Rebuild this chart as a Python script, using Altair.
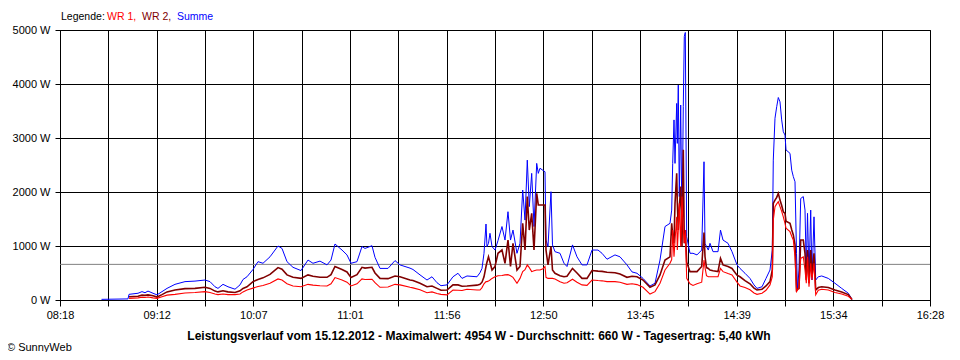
import altair as alt
import pandas as pd

# ---------------- data ----------------
TIMES = [
    "08:41:22", "08:56:18", "08:56:52", "09:01:56", "09:04:11", "09:05:52", "09:07:34", "09:10:23",
    "09:12:38", "09:15:27", "09:18:16", "09:22:46", "09:28:24", "09:34:02", "09:39:40", "09:42:29",
    "09:45:18", "09:46:59", "09:49:48", "09:52:37", "09:56:34", "09:59:23", "10:01:04", "10:03:19",
    "10:06:42", "10:09:31", "10:12:20", "10:16:17", "10:20:47", "10:23:02", "10:25:51", "10:29:14",
    "10:33:44", "10:37:41", "10:40:29", "10:44:26", "10:48:23", "10:50:38", "10:52:53", "10:56:50",
    "10:59:38", "11:01:54", "11:05:16", "11:08:05", "11:09:47", "11:13:43", "11:15:25", "11:18:14",
    "11:22:44", "11:26:41", "11:29:29", "11:35:08", "11:36:49", "11:40:46", "11:44:42", "11:47:31",
    "11:50:20", "11:52:35", "11:55:58", "11:59:20", "12:02:10", "12:04:25", "12:07:14", "12:12:52",
    "12:14:33", "12:15:41", "12:16:48", "12:17:56", "12:18:29", "12:19:20", "12:20:11", "12:21:19",
    "12:23:00", "12:24:41", "12:26:56", "12:28:38", "12:30:19", "12:31:44", "12:33:08", "12:35:23",
    "12:37:05", "12:38:36", "12:39:54", "12:41:11", "12:42:19", "12:43:40", "12:44:58", "12:46:29",
    "12:47:23", "12:48:20", "12:50:02", "12:51:10", "12:51:43", "12:52:51", "12:54:32", "12:55:23",
    "12:56:47", "12:59:37", "13:01:52", "13:03:33", "13:06:39", "13:09:11", "13:12:00", "13:14:49",
    "13:17:38", "13:21:01", "13:23:16", "13:26:05", "13:30:35", "13:33:24", "13:37:20", "13:40:10",
    "13:42:59", "13:46:22", "13:50:18", "13:53:07", "13:55:56", "13:58:45", "14:01:34", "14:02:31",
    "14:03:05", "14:03:49", "14:04:23", "14:05:20", "14:05:41", "14:06:14", "14:06:48", "14:07:35",
    "14:08:19", "14:09:03", "14:09:37", "14:10:11", "14:10:58", "14:12:50", "14:14:31", "14:16:46",
    "14:19:25", "14:20:43", "14:21:17", "14:22:07", "14:23:08", "14:24:05", "14:25:47", "14:28:36",
    "14:30:00", "14:31:25", "14:34:14", "14:36:29", "14:39:18", "14:40:59", "14:43:48", "14:46:37",
    "14:48:52", "14:50:34", "14:53:23", "14:55:38", "14:57:53", "14:59:11", "14:59:44", "15:00:42",
    "15:01:40", "15:02:34", "15:03:31", "15:04:28", "15:05:23", "15:06:20", "15:06:54", "15:09:09",
    "15:10:07", "15:11:01", "15:11:58", "15:12:49", "15:13:22", "15:14:13", "15:15:11", "15:16:38",
    "15:17:36", "15:18:20", "15:19:01", "15:19:51", "15:20:49", "15:21:32", "15:22:40", "15:23:38",
    "15:25:05", "15:27:01", "15:30:43", "15:34:29", "15:38:16", "15:41:59", "15:44:04",
]

SUMME = [
    12, 20, 105, 125, 155, 135, 165, 125,
    95, 155, 215, 290, 340, 350, 370, 340,
    245, 215, 290, 245, 200, 280, 380, 430,
    565, 710, 680, 800, 1000, 955, 710, 605,
    545, 740, 680, 720, 650, 740, 1037, 925,
    835, 680, 710, 990, 955, 1005, 790, 585,
    585, 730, 650, 590, 565, 465, 370, 430,
    320, 265, 280, 430, 495, 400, 445, 430,
    505, 585, 865, 1407, 990, 1050, 1235, 990,
    925, 1100, 1360, 1110, 1635, 1110, 1295, 865,
    1050, 2037, 1480, 2590, 1730, 2345, 1360, 2530,
    2345, 2440, 2400, 2375, 1110, 990, 2005, 1020,
    895, 865, 680, 620, 1020, 800, 650, 650,
    925, 925, 865, 755, 835, 800, 650, 520,
    495, 400, 260, 310, 740, 1360, 1420, 1665,
    2530, 3335, 2530, 3640, 2900, 3980, 1915, 3610,
    1295, 3580, 4880, 4954, 1170, 865, 865, 835,
    925, 2560, 1050, 990, 925, 1050, 895, 895,
    1295, 1110, 1050, 895, 650, 585, 495, 400,
    280, 215, 245, 400, 555, 925, 2590, 3365,
    3580, 3750, 3670, 3335, 3115, 3055, 2780, 2715,
    2405, 2285, 2190, 865, 185, 555, 1880, 1915,
    1665, 555, 1605, 430, 1665, 370, 1540, 370,
    430, 445, 400, 310, 215, 125, 10,
]

WR2 = [
    None, None, 60, 70, 90, 85, 95, 80,
    55, 100, 150, 185, 210, 215, 235, 215,
    165, 150, 170, 150, 140, 170, 215, 245,
    340, 380, 410, 475, 600, 570, 465, 420,
    400, 465, 440, 420, 420, 470, 620, 565,
    520, 415, 470, 605, 590, 605, 500, 400,
    395, 445, 430, 370, 360, 310, 245, 260,
    215, 180, 185, 280, 280, 255, 260, 275,
    290, 330, 430, 620, 700, 800, 700, 555,
    620, 865, 925, 680, 1110, 620, 1050, 555,
    620, 1420, 925, 1915, 1295, 1605, 925, 1975,
    1760, 1760, 1760, 1760, 925, 650, 990, 555,
    495, 450, 430, 440, 585, 500, 400, 400,
    545, 535, 530, 515, 505, 480, 420, 440,
    430, 370, 235, 280, 465, 740, 800, 1420,
    1200, 1050, 1790, 2345, 1800, 1295, 1700, 2100,
    990, 2780, 1050, 1295, 700, 525, 525, 525,
    620, 1250, 800, 600, 585, 555, 540, 525,
    770, 650, 620, 585, 460, 430, 360, 300,
    220, 185, 200, 260, 340, 555, 1790, 1850,
    1900, 1975, 1850, 1750, 1635, 1605, 1460, 1420,
    1300, 1205, 1020, 185, 200, 215, 1110, 1110,
    865, 370, 925, 310, 925, 430, 865, 185,
    230, 245, 230, 185, 150, 100, 10,
]

WR1 = [
    None, None, 30, 40, 50, 45, 55, 40,
    30, 60, 90, 105, 130, 140, 155, 140,
    110, 100, 110, 100, 100, 110, 150, 185,
    220, 250, 270, 310, 390, 370, 300, 260,
    245, 290, 275, 265, 260, 300, 415, 370,
    330, 260, 300, 390, 380, 385, 320, 235,
    240, 290, 280, 235, 225, 190, 135, 150,
    120, 105, 95, 185, 180, 175, 200, 185,
    185, 230, 300, 340, 340, 350, 370, 400,
    430, 450, 455, 465, 470, 450, 420, 310,
    400, 525, 560, 650, 600, 525, 540, 555,
    555, 555, 580, 620, 420, 400, 400, 400,
    390, 340, 310, 320, 385, 330, 280, 270,
    370, 360, 355, 340, 340, 330, 290, 300,
    285, 235, 110, 155, 310, 555, 680, 750,
    1295, 800, 1100, 1540, 925, 1300, 1790, 990,
    1915, 1300, 1050, 1295, 400, 300, 270, 300,
    330, 740, 600, 450, 430, 430, 430, 430,
    585, 525, 490, 465, 330, 260, 230, 190,
    130, 105, 125, 180, 280, 430, 1480, 1730,
    1780, 1820, 1730, 1640, 1540, 1420, 1330, 1265,
    1180, 1110, 800, 155, 180, 245, 770, 800,
    555, 310, 800, 245, 680, 370, 680, 95,
    180, 200, 185, 140, 110, 70, 10,
]

Y_TICKS = [0, 1000, 2000, 3000, 4000, 5000]
TICK_LABELS = ["08:18", "09:12", "10:07", "11:01", "11:56", "12:50", "13:45", "14:39", "15:34", "16:28"]
AVERAGE_W = [660]
LEGEND_PREFIX = "Legende:"
SERIES_NAMES = ["WR 1", "WR 2", "Summe"]
SERIES_COLORS = ["#FF0000", "#800000", "#0000FF"]
TITLE_TEXT = "Leistungsverlauf vom 15.12.2012 - Maximalwert: 4954 W - Durchschnitt: 660 W - Tagesertrag: 5,40 kWh"
COPYRIGHT = "\u00a9 SunnyWeb"

FONT = "Liberation Sans"


def to_min(s):
    p = [int(v) for v in s.split(":")]
    return p[0] * 60 + p[1] + (p[2] / 60.0 if len(p) > 2 else 0.0)


df = pd.DataFrame({
    "t": [to_min(s) for s in TIMES],
    "summe": SUMME,
    "wr1": WR1,
    "wr2": WR2,
})

x0, x1 = to_min(TICK_LABELS[0]), to_min(TICK_LABELS[-1])
n_grid = 2 * (len(TICK_LABELS) - 1)
step = (x1 - x0) / n_grid
grid_vals = [x0 + i * step for i in range(n_grid + 1)]
label_arr = [TICK_LABELS[i // 2] if i % 2 == 0 else "" for i in range(n_grid + 1)]
label_expr = "[" + ",".join("'%s'" % l for l in label_arr) + "][round((datum.value-%s)/%s)]" % (x0, step)

x_scale = alt.Scale(domain=[x0, x1], nice=False, zero=False)
y_scale = alt.Scale(domain=[Y_TICKS[0], Y_TICKS[-1]], nice=False)

x_axis = alt.Axis(
    values=grid_vals, labelExpr=label_expr, title=None,
    grid=True, gridColor="black", gridOpacity=1, gridWidth=1,
    tickColor="black", tickSize=6, tickWidth=1, domainColor="black",
    labelFont=FONT, labelFontSize=11, labelColor="black", labelPadding=3,
    labelFlush=False, labelOverlap=False,
)
y_axis = alt.Axis(
    values=Y_TICKS, labelExpr="datum.value + ' W'", title=None,
    grid=True, gridColor="black", gridOpacity=1, gridWidth=1,
    tickColor="black", tickSize=5, tickWidth=1, domainColor="black",
    labelFont=FONT, labelFontSize=11, labelColor="black", labelPadding=5,
    labelFlush=False, labelOverlap=False,
)

x_enc = alt.X("t:Q", scale=x_scale, axis=x_axis)

avg = alt.Chart(pd.DataFrame({"avg": AVERAGE_W})).mark_rule(color="#808080", strokeWidth=1).encode(
    y=alt.Y("avg:Q", scale=y_scale, axis=y_axis)
)

base = alt.Chart(df)
line_summe = base.mark_line(color=SERIES_COLORS[2], strokeWidth=1).encode(
    x=x_enc, y=alt.Y("summe:Q", scale=y_scale, axis=y_axis))
line_wr2 = base.mark_line(color=SERIES_COLORS[1], strokeWidth=1.6).encode(
    x=x_enc, y=alt.Y("wr2:Q", scale=y_scale, axis=y_axis))
line_wr1 = base.mark_line(color=SERIES_COLORS[0], strokeWidth=1.1).encode(
    x=x_enc, y=alt.Y("wr1:Q", scale=y_scale, axis=y_axis))


def label(text, x, y, color="black", align="left", weight="normal", size=11):
    return alt.Chart(pd.DataFrame({"s": [text]})).mark_text(
        align=align, baseline="alphabetic", font=FONT, fontSize=size,
        fontWeight=weight, color=color,
    ).encode(x=alt.value(x), y=alt.value(y), text="s:N")


legend = [
    label(LEGEND_PREFIX, 1, -10, size=10.5),
    label(SERIES_NAMES[0] + ",", 47, -10, SERIES_COLORS[0], size=10.5),
    label(SERIES_NAMES[1] + ",", 82, -10, SERIES_COLORS[1], size=10.5),
    label(SERIES_NAMES[2], 117, -10, SERIES_COLORS[2], size=10.5),
]
title = label(TITLE_TEXT, 419, 310, align="center", weight="bold", size=12)
copyright_txt = label(COPYRIGHT, -53, 321)

chart = alt.layer(
    avg, line_summe, line_wr2, line_wr1, *legend, title, copyright_txt
).properties(
    width=870, height=270,
    autosize=alt.AutoSizeParams(type="none"),
    padding={"left": 52, "top": 22, "right": 22, "bottom": 52},
    background="white",
).configure_view(stroke="black", strokeWidth=1)

chart.save("out.html", embed_options={"renderer": "svg", "actions": False})
